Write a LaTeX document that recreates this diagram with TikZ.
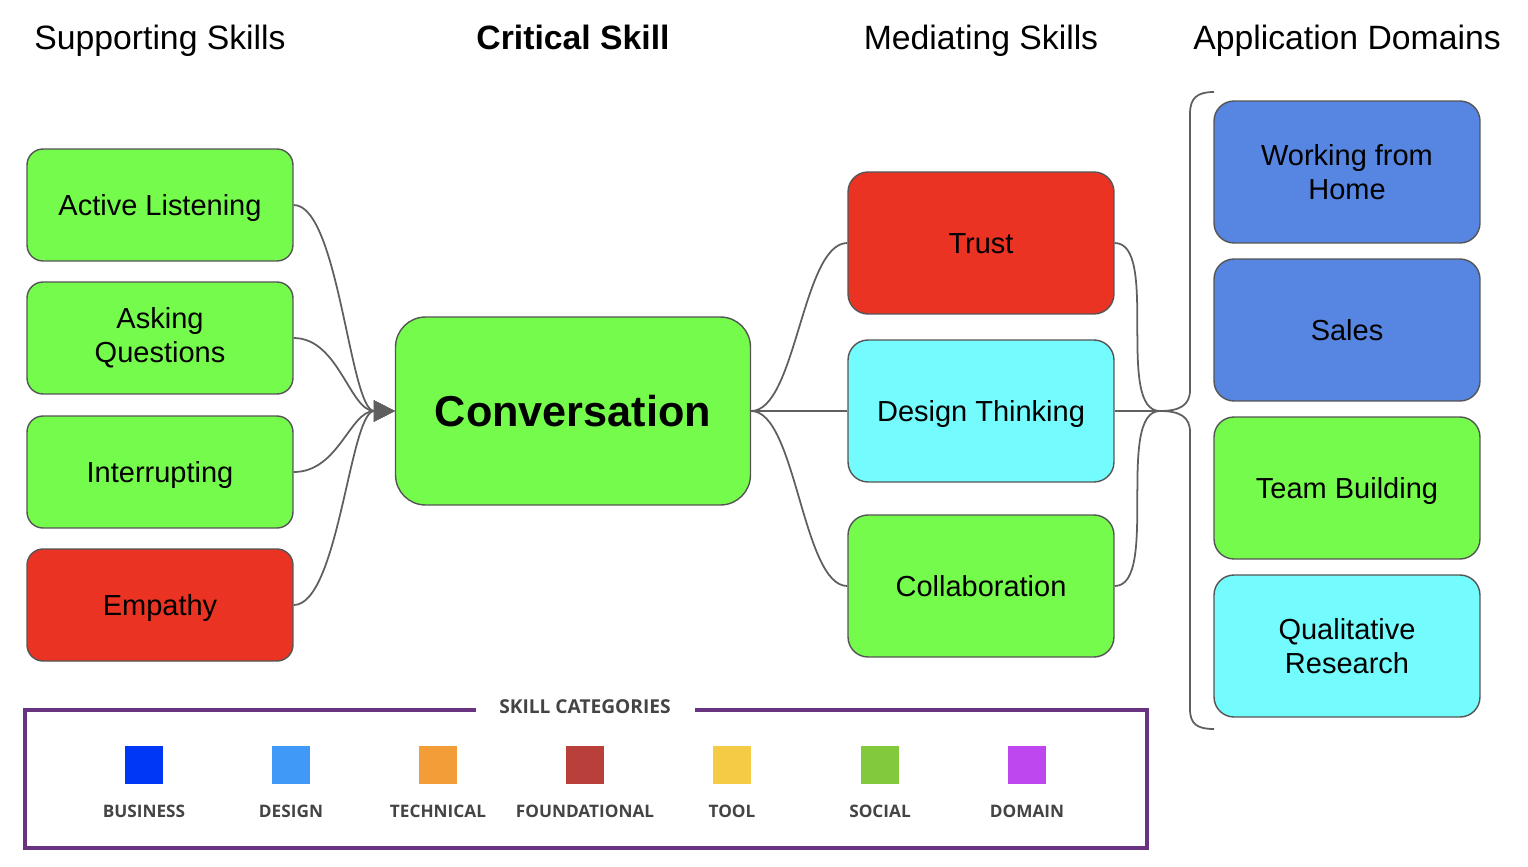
\documentclass[tikz,border=0pt]{standalone}
\usepackage{fontspec}
\setmainfont{Liberation Sans}
\newfontfamily\legendfont{Open Sans}
\usetikzlibrary{
    arrows.meta
}
\definecolor{socialgreen}{RGB}{117,251,76}
\definecolor{foundred}{RGB}{234,51,35}
\definecolor{designcyan}{RGB}{115,251,253}
\definecolor{domainblue}{RGB}{86,134,225}
\definecolor{boxgray}{RGB}{85,85,85}
\definecolor{linkgray}{RGB}{95,95,95}
\definecolor{legendpurple}{RGB}{104,52,130}
\definecolor{legendtextgray}{RGB}{68,68,68}
\tikzset{
    >={Triangle[length=12pt,width=12pt,color=linkgray]},
    skill/.style={
        draw=boxgray,
        line width=0.8pt,
        rounded corners=0.32cm,
        align=center,
        minimum width=5.32cm,
        font=\fontsize{16.5}{19.5}\selectfont
    },
    oneline/.style={text height=11.8pt, text depth=0pt},
    support/.style={skill, minimum height=2.24cm},
    mediating/.style={skill, minimum height=2.84cm, rounded corners=0.4cm},
    appbox/.style={skill, minimum height=2.84cm, rounded corners=0.4cm},
    header/.style={anchor=base, font=\fontsize{19.2}{23}\selectfont},
    link/.style={
        draw=linkgray,
        line width=1pt,
        to path={.. controls +(45,0) and +(-45,0) .. (\tikztotarget) \tikztonodes}
    },
    swatch/.style={minimum size=0.76cm, inner sep=0pt},
    legendtext/.style={
        text=legendtextgray,
        font=\legendfont\bfseries\fontsize{9.8}{12}\selectfont
    }
}

\begin{document}
\begin{tikzpicture}[
    x=0.02cm,
    y=-0.02cm
]
    \useasboundingbox (0,0) rectangle (1528,866);

    % Titulos
    \node[header] (hsup) at (160,49)  {Supporting Skills};
    \node[header, font=\bfseries\fontsize{19.2}{23}\selectfont]
                  (hcrit) at (573,49) {Critical Skill};
    \node[header] (hmed) at (981,49)  {Mediating Skills};
    \node[header] (happ) at (1347,49) {Application Domains};

    % Supporting skills
    \node[support, oneline, fill=socialgreen] (listen)    at (160,205) {Active Listening};
    \node[support, fill=socialgreen]          (ask)       at (160,338) {Asking\\Questions};
    \node[support, oneline, fill=socialgreen] (interrupt) at (160,472) {Interrupting};
    \node[support, oneline, fill=foundred]    (empathy)   at (160,605) {Empathy};

    % Critical skill
    \node[skill, fill=socialgreen, minimum width=7.1cm, minimum height=3.76cm,
          rounded corners=0.6cm, font=\bfseries\fontsize{24.6}{29}\selectfont]
        (conv) at (573,411) {Conversation};

    % Mediating skills
    \node[mediating, oneline, fill=foundred]    (trust)  at (981,243) {Trust};
    \node[mediating, oneline, fill=designcyan]  (design) at (981,411) {Design Thinking};
    \node[mediating, oneline, fill=socialgreen] (collab) at (981,586) {Collaboration};

    % Application domains
    \node[appbox, fill=domainblue]           (home)  at (1347,172) {Working from\\Home};
    \node[appbox, oneline, fill=domainblue]  (sales) at (1347,330) {Sales};
    \node[appbox, oneline, fill=socialgreen] (team)  at (1347,488) {Team Building};
    \node[appbox, fill=designcyan]           (qual)  at (1347,646) {Qualitative\\Research};

    % Llave
    \coordinate (bracetip) at (1160,411);
    \draw[linkgray, line width=1pt]
        (1214,92) .. controls (1197,92) and (1190,98) .. (1190,114)
        -- (1190,390) .. controls (1190,405) and (1180,411) .. (bracetip)
        .. controls (1180,411) and (1190,417) .. (1190,432)
        -- (1190,709) .. controls (1190,724) and (1197,729) .. (1214,729);

    % Conexiones
    \path[link]
        (listen.east)    edge[->] (conv.west)
        (ask.east)       edge[->] (conv.west)
        (interrupt.east) edge[->] (conv.west)
        (empathy.east)   edge[->] (conv.west)

        (conv.east)
            edge (trust.west)
            edge (design.west)
            edge (collab.west)

        (trust.east)  edge (bracetip)
        (design.east) edge (bracetip)
        (collab.east) edge (bracetip);

    % Leyenda
    \draw[legendpurple, line width=2.8pt]
        (476,710) -- (25,710) -- (25,848) -- (1147,848) -- (1147,710) -- (695,710);
    \node[legendtext, font=\legendfont\bfseries\fontsize{10.9}{13}\selectfont]
        (legtitle) at (585,707) {SKILL CATEGORIES};

    \node[swatch, fill={rgb,255:red,0;green,54;blue,245}]    (business) at (144,765) {};
    \node[swatch, fill={rgb,255:red,65;green,153;blue,247}]  (designc)  at (291,765) {};
    \node[swatch, fill={rgb,255:red,242;green,157;blue,56}]  (technical) at (438,765) {};
    \node[swatch, fill={rgb,255:red,185;green,64;blue,58}]   (foundational) at (585,765) {};
    \node[swatch, fill={rgb,255:red,245;green,203;blue,70}]  (tool)     at (732,765) {};
    \node[swatch, fill={rgb,255:red,131;green,201;blue,62}]  (social)   at (880,765) {};
    \node[swatch, fill={rgb,255:red,190;green,71;blue,240}]  (domainc)  at (1027,765) {};

    \node[legendtext] (lbusiness)     at (144,811)  {BUSINESS};
    \node[legendtext] (ldesign)       at (291,811)  {DESIGN};
    \node[legendtext] (ltechnical)    at (438,811)  {TECHNICAL};
    \node[legendtext] (lfoundational) at (585,811)  {FOUNDATIONAL};
    \node[legendtext] (ltool)         at (732,811)  {TOOL};
    \node[legendtext] (lsocial)       at (880,811)  {SOCIAL};
    \node[legendtext] (ldomain)       at (1027,811) {DOMAIN};

\end{tikzpicture}
\end{document}
